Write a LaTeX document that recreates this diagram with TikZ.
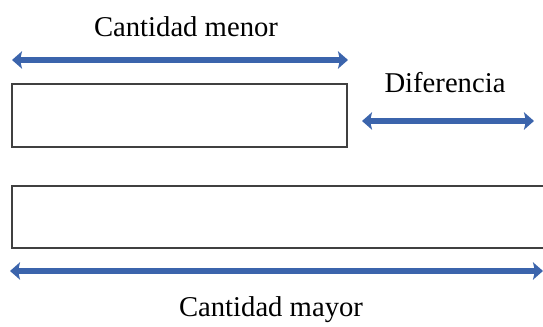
\documentclass[tikz,border=0pt]{standalone}
\usepackage{fontspec}
\setmainfont{Liberation Serif}
\usetikzlibrary{arrows.meta}
\definecolor{flecha}{RGB}{59,100,172}
\tikzset{
	caja/.style={draw=black!75, line width=1pt, inner sep=0pt},
	medida/.style={flecha, line width=4.5pt, {Stealth[length=7.5pt,width=13pt,inset=1.5pt]}-{Stealth[length=7.5pt,width=13pt,inset=1.5pt]}},
	rotulo/.style={font=\fontsize{21.5}{24}\selectfont}
}
\begin{document}
\begin{tikzpicture}[x=0.75pt, y=-0.75pt]
	\useasboundingbox (0,0) rectangle (543,327);
	
	% Cajas
	\draw[caja] (12,84) rectangle (347,147);
	\draw[caja] (12,186) rectangle (546,248);
	
	% Cantidad menor
	\node[rotulo] (menor) at (186,27) {Cantidad menor};
	\coordinate (m1) at (12,60);
	\coordinate (m2) at (348,60);
	\draw[medida] (m1) -- (m2);
	
	% Diferencia
	\node[rotulo] (dif) at (445,83) {Diferencia};
	\coordinate (d1) at (362,121);
	\coordinate (d2) at (534,121);
	\draw[medida] (d1) -- (d2);
	
	% Cantidad mayor
	\coordinate (M1) at (10,271);
	\coordinate (M2) at (543,271);
	\draw[medida] (M1) -- (M2);
	\node[rotulo] (mayor) at (271,310) {Cantidad mayor};
\end{tikzpicture}
\end{document}
